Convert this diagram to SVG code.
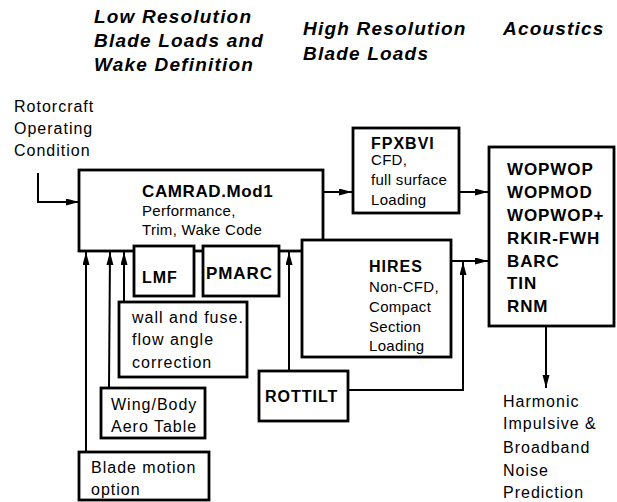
<svg xmlns="http://www.w3.org/2000/svg" width="617" height="502" viewBox="0 0 617 502">
<style>
.box{fill:#fff;stroke:#000;stroke-width:2.8}
.ln{fill:none;stroke:#000;stroke-width:2}
.hd{font-family:"Liberation Sans",Arial,sans-serif;font-weight:bold;font-style:italic;font-size:19px;letter-spacing:1.2px}
.t{font-family:"Liberation Sans",Arial,sans-serif;font-size:16px;letter-spacing:1px}
.s{font-family:"Liberation Sans",Arial,sans-serif;font-size:15px;letter-spacing:0.3px}
.b{font-family:"Liberation Sans",Arial,sans-serif;font-weight:bold;font-size:16px;letter-spacing:1px}
.a{font-family:"Liberation Sans",Arial,sans-serif;font-weight:bold;font-size:17px;letter-spacing:0.9px}
</style>
<defs>
<marker id="ah" markerUnits="userSpaceOnUse" markerWidth="14" markerHeight="8" refX="13" refY="3.5" orient="auto">
<path d="M0,0 L13,3.5 L0,7 z" fill="#000"/>
</marker>
</defs>
<g id="headers">
<text class="hd" x="94" y="23">Low Resolution</text>
<text class="hd" x="94" y="47">Blade Loads and</text>
<text class="hd" x="94" y="71">Wake Definition</text>
<text class="hd" x="303" y="35">High Resolution</text>
<text class="hd" x="303" y="60">Blade Loads</text>
<text class="hd" x="503" y="35">Acoustics</text>
</g>
<g id="input-label">
<text class="t" x="14" y="112">Rotorcraft</text>
<text class="t" x="14" y="134">Operating</text>
<text class="t" x="14" y="156">Condition</text>
</g>
<g id="camrad">
<rect class="box" x="79" y="170" width="244" height="81"/>
<text class="b" x="142" y="197" style="font-size:17px;letter-spacing:0.6px">CAMRAD.Mod1</text>
<text class="s" x="142" y="216">Performance,</text>
<text class="s" x="142" y="235">Trim, Wake Code</text>
</g>
<g id="lmf">
<rect class="box" x="134" y="246" width="60" height="50"/>
<text class="b" x="142" y="283">LMF</text>
</g>
<g id="pmarc">
<rect class="box" x="203" y="246" width="76" height="50"/>
<text class="b" x="206" y="279" style="font-size:17px;letter-spacing:0.9px">PMARC</text>
</g>
<g id="hires">
<rect class="box" x="302" y="240" width="149" height="117"/>
<text class="b" x="369" y="272">HIRES</text>
<text class="s" x="369" y="292">Non-CFD,</text>
<text class="s" x="369" y="312">Compact</text>
<text class="s" x="369" y="332">Section</text>
<text class="s" x="369" y="351">Loading</text>
</g>
<g id="fpxbvi">
<rect class="box" x="353" y="128" width="106" height="85"/>
<text class="b" x="371" y="149">FPXBVI</text>
<text class="s" x="371" y="165">CFD,</text>
<text class="s" x="371" y="185">full surface</text>
<text class="s" x="371" y="205">Loading</text>
</g>
<g id="acoustics">
<rect class="box" x="489" y="147" width="125" height="179"/>
<text class="a" x="507" y="175">WOPWOP</text>
<text class="a" x="507" y="198">WOPMOD</text>
<text class="a" x="507" y="221">WOPWOP+</text>
<text class="a" x="507" y="244">RKIR-FWH</text>
<text class="a" x="507" y="267">BARC</text>
<text class="a" x="507" y="289">TIN</text>
<text class="a" x="507" y="312">RNM</text>
</g>
<g id="wall">
<rect class="box" x="119" y="302" width="128" height="75"/>
<text class="t" x="132" y="323">wall and fuse.</text>
<text class="t" x="132" y="345">flow angle</text>
<text class="t" x="132" y="368">correction</text>
</g>
<g id="wingbody">
<rect class="box" x="101" y="388" width="104" height="50"/>
<text class="t" x="111" y="410">Wing/Body</text>
<text class="t" x="111" y="432">Aero Table</text>
</g>
<g id="blademotion">
<rect class="box" x="79" y="452" width="130" height="48"/>
<text class="t" x="91" y="473">Blade motion</text>
<text class="t" x="91" y="495">option</text>
</g>
<g id="rottilt">
<rect class="box" x="259" y="371" width="89" height="50"/>
<text class="b" x="265" y="402">ROTTILT</text>
</g>
<g id="output-label">
<text class="t" x="503" y="407">Harmonic</text>
<text class="t" x="503" y="429">Impulsive &amp;</text>
<text class="t" x="503" y="453">Broadband</text>
<text class="t" x="503" y="476">Noise</text>
<text class="t" x="503" y="498">Prediction</text>
</g>
<g id="connectors">
<polyline class="ln" points="38,173 38,202 79,202" marker-end="url(#ah)"/>
<line class="ln" x1="86" y1="452" x2="86" y2="252" marker-end="url(#ah)"/>
<line class="ln" x1="109" y1="388" x2="110" y2="252" marker-end="url(#ah)"/>
<line class="ln" x1="124" y1="302" x2="124" y2="252" marker-end="url(#ah)"/>
<line class="ln" x1="289" y1="371" x2="289" y2="252" marker-end="url(#ah)"/>
<line class="ln" x1="323" y1="192" x2="352" y2="192" marker-end="url(#ah)"/>
<line class="ln" x1="459" y1="192" x2="488" y2="192" marker-end="url(#ah)"/>
<line class="ln" x1="451" y1="261" x2="488" y2="261" marker-end="url(#ah)"/>
<polyline class="ln" points="348,390 463,390 463,262" marker-end="url(#ah)"/>
<line class="ln" x1="546" y1="326" x2="546" y2="388" marker-end="url(#ah)"/>
</g>
</svg>
